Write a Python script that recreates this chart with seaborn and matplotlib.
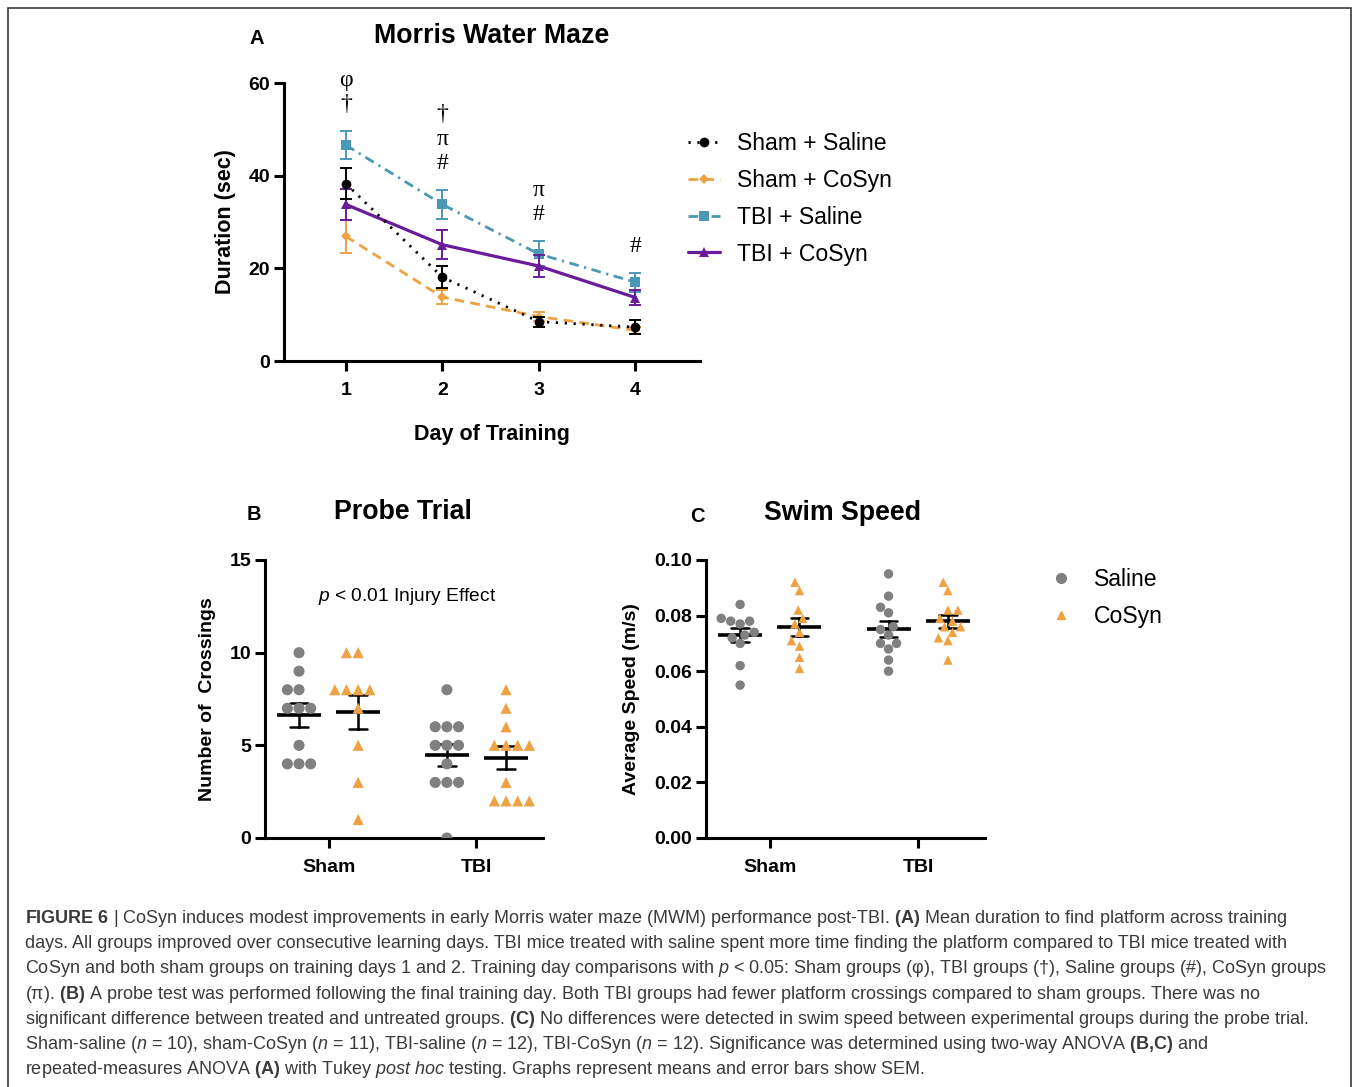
import numpy as np
import pandas as pd
import matplotlib
matplotlib.use("Agg")
import matplotlib.pyplot as plt
from matplotlib import font_manager
from matplotlib.lines import Line2D
from matplotlib.patches import Rectangle
from matplotlib.ticker import FormatStrFormatter
import seaborn as sns

# ---- data ----

# A: Morris water maze, mean +- SEM per training day
days = [1, 2, 3, 4]
groups_a = ["Sham + Saline", "Sham + CoSyn", "TBI + Saline", "TBI + CoSyn"]
sham_saline_mean = [38.3, 18.1, 8.5, 7.3]
sham_saline_sem = [3.4, 2.4, 1.1, 1.5]
sham_cosyn_mean = [26.9, 13.8, 9.6, 6.6]
sham_cosyn_sem = [3.5, 1.5, 1.0, 0.8]
tbi_saline_mean = [46.6, 33.8, 23.1, 17.0]
tbi_saline_sem = [3.0, 3.1, 2.7, 2.0]
tbi_cosyn_mean = [33.8, 25.1, 20.5, 13.7]
tbi_cosyn_sem = [3.4, 3.1, 2.4, 1.7]
sig_marks = [["φ", "†"], ["†", "π", "#"], ["π", "#"], ["#"]]

# B: probe trial crossings
groups_bc = ["Sham", "TBI"]
treatments = ["Saline", "CoSyn"]
sham_saline_cross = [10, 9, 8, 8, 7, 7, 7, 5, 4, 4, 4]
sham_cosyn_cross = [10, 10, 8, 8, 8, 8, 7, 5, 3, 1]
tbi_saline_cross = [8, 6, 6, 6, 5, 5, 5, 4, 3, 3, 3, 0]
tbi_cosyn_cross = [8, 7, 6, 5, 5, 5, 5, 3, 2, 2, 2, 2]

# C: swim speed (m/s)
sham_saline_speed = [0.084, 0.079, 0.078, 0.078, 0.077, 0.074, 0.073, 0.072, 0.070, 0.062, 0.055]
sham_cosyn_speed = [0.092, 0.089, 0.082, 0.079, 0.077, 0.074, 0.071, 0.069, 0.065, 0.061]
tbi_saline_speed = [0.095, 0.087, 0.083, 0.081, 0.076, 0.075, 0.073, 0.070, 0.070, 0.068, 0.064, 0.060]
tbi_cosyn_speed = [0.092, 0.089, 0.082, 0.082, 0.079, 0.078, 0.076, 0.076, 0.074, 0.072, 0.071, 0.064]

caption_lines = [
    r"$\bf{FIGURE\ 6}$ | CoSyn induces modest improvements in early Morris water maze (MWM) performance post-TBI. $\bf{(A)}$ Mean duration to find platform across training",
    r"days. All groups improved over consecutive learning days. TBI mice treated with saline spent more time finding the platform compared to TBI mice treated with",
    r"CoSyn and both sham groups on training days 1 and 2. Training day comparisons with $\it{p}$ < 0.05: Sham groups (φ), TBI groups (†), Saline groups (#), CoSyn groups",
    r"(π). $\bf{(B)}$ A probe test was performed following the final training day. Both TBI groups had fewer platform crossings compared to sham groups. There was no",
    r"significant difference between treated and untreated groups. $\bf{(C)}$ No differences were detected in swim speed between experimental groups during the probe trial.",
    r"Sham-saline ($\it{n}$ = 10), sham-CoSyn ($\it{n}$ = 11), TBI-saline ($\it{n}$ = 12), TBI-CoSyn ($\it{n}$ = 12). Significance was determined using two-way ANOVA $\bf{(B,\!C)}$ and",
    r"repeated-measures ANOVA $\bf{(A)}$ with Tukey $\it{post\ hoc}$ testing. Graphs represent means and error bars show SEM.",
]

# ---- style ----
sns.set_style("ticks")
names = {f.name for f in font_manager.fontManager.ttflist}
narrow = "Liberation Sans Narrow" if "Liberation Sans Narrow" in names else "Liberation Sans"
cap_size = 15.2 if narrow == "Liberation Sans Narrow" else 13.0
plt.rcParams["font.family"] = ["Liberation Sans", "DejaVu Sans"]
plt.rcParams["mathtext.fontset"] = "custom"
plt.rcParams["mathtext.rm"] = narrow
plt.rcParams["mathtext.it"] = narrow + ":italic"
plt.rcParams["mathtext.bf"] = narrow + ":bold"
for k in ["text.color", "axes.labelcolor", "xtick.color", "ytick.color", "axes.edgecolor"]:
    plt.rcParams[k] = "black"

W, H = 1354, 1087
fig = plt.figure(figsize=(W / 100, H / 100), dpi=100)


def px_axes(left, right, top, bottom):
    return fig.add_axes([left / W, 1 - bottom / H, (right - left) / W, (bottom - top) / H])


def style_axes(ax):
    sns.despine(ax=ax)
    for s in ["left", "bottom"]:
        ax.spines[s].set_linewidth(2.2)
    ax.tick_params(width=2.2, length=7, labelsize=14, colors="black")
    ax.tick_params(axis="x", pad=8)
    ax.tick_params(axis="y", pad=3)
    for lab in ax.get_xticklabels() + ax.get_yticklabels():
        lab.set_fontweight("bold")
        lab.set_family([narrow, "DejaVu Sans"])


# ---- panel A ----
ax_a = px_axes(284, 700, 83, 361)
means_a = [sham_saline_mean, sham_cosyn_mean, tbi_saline_mean, tbi_cosyn_mean]
sems_a = [sham_saline_sem, sham_cosyn_sem, tbi_saline_sem, tbi_cosyn_sem]
styles_a = [
    dict(color="black", linestyle=(0, (0.8, 2.4)), marker="o", markersize=7, linewidth=2.0, zorder=5),
    dict(color="#eea243", linestyle=(0, (3.5, 2.2)), marker="D", markersize=5, linewidth=2.0, zorder=3),
    dict(color="#4b98b6", linestyle=(0, (3.5, 2, 0.8, 2)), marker="s", markersize=7, linewidth=2.0, zorder=3),
    dict(color="#6a1b9a", linestyle="-", marker="^", markersize=7, linewidth=2.3, zorder=4),
]
for name, mean, sem, st in zip(groups_a, means_a, sems_a, styles_a):
    sns.lineplot(x=days, y=mean, ax=ax_a, label=name, markeredgecolor=st["color"],
                 markeredgewidth=0, **st)
    ax_a.errorbar(days, mean, yerr=sem, fmt="none", ecolor=st["color"],
                  elinewidth=1.4, capsize=4, capthick=1.4, zorder=st["zorder"])

# significance symbols stacked above the highest error bar of each day
tops = np.max(np.array(means_a) + np.array(sems_a), axis=0)
for d, top, marks in zip(days, tops, sig_marks):
    for i, m in enumerate(marks):
        y = top + 5.8 + 5.2 * (len(marks) - 1 - i)
        ax_a.text(d, y, m, ha="center", va="center", fontsize=17,
                  family=["Liberation Serif", "DejaVu Serif"])

ax_a.set_xlim(0.36, 4.67)
ax_a.set_ylim(0, 60)
ax_a.set_xticks(days)
ax_a.set_yticks([0, 20, 40, 60])
ax_a.set_xlabel("Day of Training", fontsize=15.5, fontweight="bold")
ax_a.set_ylabel("Duration (sec)", fontsize=15.5, fontweight="bold")
ax_a.xaxis.set_label_coords(0.5, -0.225)
ax_a.yaxis.set_label_coords(-0.115, 0.5)
ax_a.legend(loc="upper left", bbox_to_anchor=(688 / W, 1 - 132 / H), bbox_transform=fig.transFigure,
            frameon=False, fontsize=16.6, handlelength=1.4, handletextpad=0.72,
            labelspacing=0.6, borderpad=0, borderaxespad=0)
style_axes(ax_a)

# ---- panels B and C ----
palette = {"Saline": "#808080", "CoSyn": "#eea243"}
markers = {"Saline": "o", "CoSyn": "^"}


def long_table(ss, sc, ts, tc):
    rows = []
    for grp, trt, vals in [("Sham", "Saline", ss), ("Sham", "CoSyn", sc),
                           ("TBI", "Saline", ts), ("TBI", "CoSyn", tc)]:
        rows += [(grp, trt, v) for v in vals]
    return pd.DataFrame(rows, columns=["group", "treatment", "value"])


def dot_panel(ax, df, size):
    for trt in treatments:
        sns.swarmplot(data=df[df.treatment == trt], x="group", y="value", hue="treatment",
                      order=groups_bc, hue_order=treatments, dodge=True, palette=palette,
                      marker=markers[trt], size=size, linewidth=0, legend=False, ax=ax)
    sns.pointplot(data=df, x="group", y="value", hue="treatment", order=groups_bc,
                  hue_order=treatments, dodge=0.4, errorbar="se", markers="_",
                  linestyle="none", capsize=0.12, palette={t: "black" for t in treatments},
                  markersize=32, markeredgewidth=2.6, err_kws={"linewidth": 1.8},
                  legend=False, ax=ax)
    ax.set_xlim(-0.43, 1.45)
    ax.set_xlabel("")


ax_b = px_axes(265, 543, 560, 838)
df_b = long_table(sham_saline_cross, sham_cosyn_cross, tbi_saline_cross, tbi_cosyn_cross)
dot_panel(ax_b, df_b, 8)
ax_b.set_ylim(0, 15)
ax_b.set_yticks([0, 5, 10, 15])
ax_b.set_ylabel("Number of  Crossings", fontsize=14, fontweight="bold")
ax_b.yaxis.set_label_coords(-0.175, 0.5)
ax_b.text(0.51, 0.87, r"$\it{p}$ < 0.01 Injury Effect", transform=ax_b.transAxes,
          ha="center", va="center", fontsize=13.8)
style_axes(ax_b)

ax_c = px_axes(706, 985, 560, 838)
df_c = long_table(sham_saline_speed, sham_cosyn_speed, tbi_saline_speed, tbi_cosyn_speed)
dot_panel(ax_c, df_c, 6.8)
ax_c.set_ylim(0, 0.10)
ax_c.set_yticks(np.arange(0, 0.101, 0.02))
ax_c.yaxis.set_major_formatter(FormatStrFormatter("%.2f"))
ax_c.set_ylabel("Average Speed (m/s)", fontsize=14, fontweight="bold")
ax_c.yaxis.set_label_coords(-0.235, 0.5)
handles = [Line2D([], [], linestyle="none", marker=markers[t], color=palette[t],
                  markersize=7 if t == "Saline" else 6) for t in treatments]
ax_c.legend(handles, treatments, loc="upper left", bbox_to_anchor=(1049 / W, 1 - 568 / H),
            bbox_transform=fig.transFigure, frameon=False, fontsize=16.6, handlelength=1.0,
            handletextpad=0.95, labelspacing=0.6, borderpad=0, borderaxespad=0)
style_axes(ax_c)

# ---- titles and panel letters ----
for x, y, s in [(492, 36, "Morris Water Maze"), (403, 512, "Probe Trial"), (843, 513, "Swim Speed")]:
    fig.text(x / W, 1 - y / H, s, ha="center", va="center", fontsize=19.3, fontweight="bold")
for x, y, s in [(257, 38, "A"), (254, 514, "B"), (697, 516, "C")]:
    fig.text(x / W, 1 - y / H, s, ha="center", va="center", fontsize=14.5, fontweight="bold")

# ---- caption ----
for i, line in enumerate(caption_lines):
    fig.text(25 / W, 1 - (923 + 25.2 * i) / H, line, ha="left", va="baseline",
             fontsize=cap_size, color="#3a3a3a", family=[narrow, "DejaVu Sans"])

fig.patches.append(Rectangle((8 / W, -0.01), (1351 - 8) / W, 1 - 8 / H + 0.01,
                             transform=fig.transFigure, fill=False, edgecolor="#3a3a3a",
                             linewidth=1.2))

fig.savefig("out.png", dpi=100)
